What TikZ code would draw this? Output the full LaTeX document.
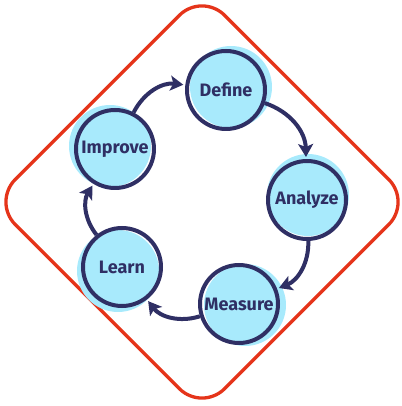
\documentclass[tikz,border=0pt]{standalone}
\usepackage{fontspec}
\setmainfont{Fira Sans}
\usepackage{xcolor}
\usepackage{tikz}
\usetikzlibrary{arrows.meta}
\definecolor{navy}{HTML}{2F2F64}
\definecolor{skyfill}{HTML}{A8EAFC}
\definecolor{framered}{HTML}{E5341A}
\tikzset{
  framebox/.style={draw=framered,line width=3.3pt,rounded corners=32pt,minimum size=296pt,inner sep=0pt,rotate=45},
  glow/.style={fill=skyfill},
  stage/.style={circle,draw=navy,line width=4pt,minimum size=78pt,inner sep=0pt,text=navy,font=\fontsize{18}{20}\selectfont\bfseries},
  cyclearrow/.style={draw=navy,line width=4pt,-{Stealth[length=13pt,width=15pt,inset=3pt]},shorten >=2pt,bend left=35}
}
\begin{document}
\begin{tikzpicture}[x=1pt,y=1pt]
  \useasboundingbox (0,0) rectangle (401,406);
  \node[framebox] (frame) at (202,204) {};
  % light discs behind the rings
  \fill[glow] (231,319) circle (41);
  \fill[glow] (110,260) circle (41);
  \fill[glow] (308,211) circle (41);
  \fill[glow] (245,101) circle (41);
  \fill[glow] (118,135) circle (41);
  % stages
  \node[stage] (define) at (226,316) {Define};
  \node[stage] (analyze) at (307,206) {Analyze};
  \node[stage] (measure) at (239,102) {Measure};
  \node[stage] (learn) at (122,139) {Learn};
  \node[stage] (improve) at (115,257) {Improve};
  % cycle
  \draw[cyclearrow] (improve) to (define);
  \draw[cyclearrow] (define) to (analyze);
  \draw[cyclearrow] (analyze) to (measure);
  \draw[cyclearrow] (measure) to (learn);
  \draw[cyclearrow] (learn) to (improve);
\end{tikzpicture}
\end{document}
